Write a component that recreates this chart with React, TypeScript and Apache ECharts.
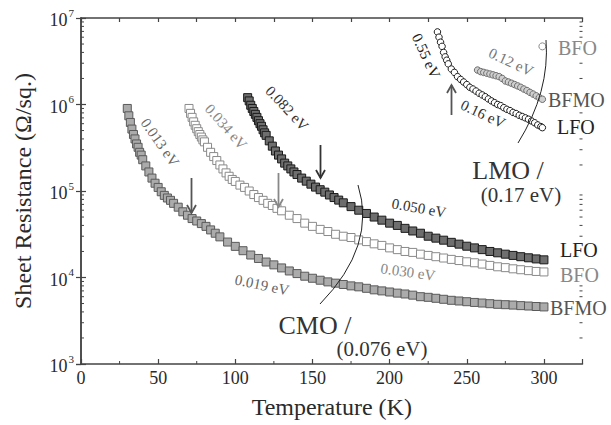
import React, { useEffect, useRef } from "react";
import * as echarts from "echarts";

const FONT = "'Liberation Serif', 'Times New Roman', serif";

// Temperature (K), sheet resistance (ohm/sq)
const cmoBFMO: [number, number][] = [
  [30, 9.0e5], [31, 7.4e5], [32, 6.2e5], [33, 5.2e5], [34, 4.5e5], [35, 4.0e5], [36, 3.5e5], [37, 3.2e5], [38, 2.8e5], [39, 2.6e5],
  [40, 2.3e5], [42, 1.95e5], [44, 1.66e5], [46, 1.41e5], [48, 1.23e5], [50, 1.1e5], [52, 9.8e4], [54, 8.9e4], [56, 8.3e4], [58, 7.8e4],
  [60, 7.2e4], [63, 6.5e4], [66, 5.75e4], [69, 5.25e4], [72, 4.8e4], [75, 4.5e4], [78, 4.2e4], [81, 3.9e4], [84, 3.55e4], [87, 3.25e4],
  [90, 2.95e4], [95, 2.57e4], [100, 2.29e4], [105, 2.04e4], [110, 1.82e4], [115, 1.66e4], [120, 1.51e4], [125, 1.4e4], [130, 1.29e4],
  [135, 1.19e4], [140, 1.11e4], [145, 1.035e4], [150, 9.8e3], [155, 9.3e3], [160, 8.9e3], [165, 8.6e3], [170, 8.3e3], [175, 8.0e3],
  [180, 7.8e3], [185, 7.5e3], [190, 7.2e3], [195, 7.0e3], [200, 6.8e3], [205, 6.6e3], [210, 6.45e3], [215, 6.25e3], [220, 6.0e3],
  [225, 5.9e3], [230, 5.75e3], [235, 5.6e3], [240, 5.45e3], [245, 5.35e3], [250, 5.25e3], [255, 5.15e3], [260, 5.07e3], [265, 4.98e3],
  [270, 4.9e3], [275, 4.85e3], [280, 4.8e3], [285, 4.73e3], [290, 4.68e3], [295, 4.62e3], [300, 4.57e3],
];

const cmoBFO: [number, number][] = [
  [70, 9.0e5], [71, 7.9e5], [72, 7.1e5], [73, 6.3e5], [74, 5.75e5], [75, 5.25e5], [76, 4.85e5], [77, 4.5e5], [78, 4.2e5], [79, 3.9e5],
  [80, 3.7e5], [82, 3.2e5], [84, 2.8e5], [86, 2.5e5], [88, 2.25e5], [90, 2.0e5], [92, 1.8e5], [94, 1.62e5], [96, 1.48e5], [98, 1.36e5],
  [100, 1.29e5], [103, 1.17e5], [106, 1.1e5], [109, 1.0e5], [112, 9.1e4], [115, 8.4e4], [118, 7.8e4], [121, 7.2e4], [124, 6.8e4],
  [127, 6.3e4], [130, 5.9e4], [135, 5.25e4], [140, 4.8e4], [145, 4.25e4], [150, 3.9e4], [155, 3.6e4], [160, 3.4e4], [165, 3.16e4],
  [170, 3.0e4], [175, 2.9e4], [180, 2.72e4], [185, 2.6e4], [190, 2.45e4], [195, 2.35e4], [200, 2.2e4], [205, 2.1e4], [210, 2.0e4],
  [215, 1.95e4], [220, 1.86e4], [225, 1.8e4], [230, 1.74e4], [235, 1.68e4], [240, 1.62e4], [245, 1.57e4], [250, 1.52e4], [255, 1.48e4],
  [260, 1.43e4], [265, 1.38e4], [270, 1.33e4], [275, 1.3e4], [280, 1.26e4], [285, 1.23e4], [290, 1.2e4], [295, 1.175e4], [300, 1.16e4],
];

const cmoLFO: [number, number][] = [
  [108, 1.2e6], [109, 1.1e6], [110, 9.8e5], [111, 9.0e5], [112, 8.3e5], [113, 7.7e5], [114, 7.1e5], [115, 6.5e5], [116, 6.0e5],
  [117, 5.6e5], [118, 5.1e5], [119, 4.7e5], [120, 4.4e5], [122, 3.8e5], [124, 3.3e5], [126, 2.9e5], [128, 2.6e5], [130, 2.35e5],
  [132, 2.1e5], [134, 1.95e5], [136, 1.8e5], [138, 1.66e5], [140, 1.55e5], [143, 1.41e5], [146, 1.3e5], [149, 1.2e5], [152, 1.11e5],
  [155, 1.035e5], [158, 9.7e4], [161, 9.0e4], [164, 8.4e4], [167, 7.85e4], [170, 7.3e4], [175, 6.6e4], [180, 6.0e4], [185, 5.5e4],
  [190, 5.0e4], [195, 4.6e4], [200, 4.25e4], [205, 4.0e4], [210, 3.7e4], [215, 3.45e4], [220, 3.25e4], [225, 3.0e4], [230, 2.85e4],
  [235, 2.7e4], [240, 2.55e4], [245, 2.43e4], [250, 2.3e4], [255, 2.2e4], [260, 2.1e4], [265, 2.0e4], [270, 1.93e4], [275, 1.86e4],
  [280, 1.8e4], [285, 1.74e4], [290, 1.69e4], [295, 1.64e4], [300, 1.6e4],
];

const lmoLFO: [number, number][] = [
  [231, 6.9e6], [232, 6.0e6], [233, 5.25e6], [234, 4.7e6], [235, 4.0e6], [236, 3.55e6], [237, 3.25e6], [238, 2.95e6], [240, 2.57e6],
  [242, 2.35e6], [244, 2.1e6], [246, 1.95e6], [248, 1.82e6], [250, 1.7e6], [252, 1.58e6], [254, 1.51e6], [256, 1.43e6], [258, 1.35e6],
  [260, 1.29e6], [262, 1.23e6], [264, 1.16e6], [266, 1.1e6], [268, 1.05e6], [270, 1.0e6], [272, 9.7e5], [274, 9.2e5], [276, 8.8e5],
  [278, 8.5e5], [280, 8.1e5], [282, 7.85e5], [284, 7.5e5], [286, 7.25e5], [288, 7.0e5], [290, 6.75e5], [292, 6.45e5], [294, 6.15e5],
  [296, 5.8e5], [298, 5.55e5], [299, 5.4e5],
];

const lmoBFMO: [number, number][] = [
  [257, 2.5e6], [259, 2.4e6], [261, 2.35e6], [263, 2.3e6], [265, 2.25e6], [267, 2.2e6], [269, 2.15e6], [271, 2.1e6], [273, 2.0e6],
  [275, 1.87e6], [277, 1.82e6], [279, 1.76e6], [281, 1.7e6], [283, 1.64e6], [285, 1.58e6], [287, 1.51e6], [289, 1.45e6], [291, 1.38e6],
  [293, 1.32e6], [295, 1.26e6], [297, 1.2e6], [299, 1.15e6],
];

const lmoBFO: [number, number][] = [[299, 4.7e6]];

const xMinorTicks = [25, 75, 125, 175, 225, 275];
const yDecades = [1e3, 1e4, 1e5, 1e6];
const yMinorMantissas = [2, 3, 4, 5, 6, 7, 8, 9];

export default function App() {
  const ref = useRef<HTMLDivElement>(null);

  useEffect(() => {
    const chart = echarts.init(ref.current!, null, { renderer: "svg" });
    const axisColor = "#444";
    const yMinor = yDecades.flatMap((d) => yMinorMantissas.map((m) => m * d));
    const deg = (a: number) => (a * Math.PI) / 180;

    const txt = (
      x: number,
      y: number,
      t: string,
      size: number,
      color: string,
      rot = 0,
      align = "center",
      bg = false,
      lh?: number
    ) => ({
      type: "text",
      x,
      y,
      rotation: deg(rot),
      z: 100,
      style: {
        text: t,
        fill: color,
        font: `${size}px ${FONT}`,
        align,
        verticalAlign: "middle",
        lineHeight: lh ?? size,
        backgroundColor: bg ? "#fff" : undefined,
      },
    });
    const arrow = (x: number, yFrom: number, yTip: number, color: string) => {
      const dir = yTip > yFrom ? 1 : -1;
      return [
        { type: "line", z: 100, shape: { x1: x, y1: yFrom, x2: x, y2: yTip }, style: { stroke: color, lineWidth: 1.8 } },
        {
          type: "polyline",
          z: 100,
          shape: { points: [[x - 4.5, yTip - dir * 8], [x, yTip], [x + 4.5, yTip - dir * 8]] },
          style: { stroke: color, lineWidth: 1.8, fill: null },
        },
      ];
    };

    const scatter = (data: [number, number][], symbol: string, size: number, fill: string, border: string, bw = 1) => ({
      type: "scatter",
      data,
      symbol,
      symbolSize: size,
      itemStyle: { color: fill, borderColor: border, borderWidth: bw, opacity: 1 },
      silent: true,
      z: 3,
    });

    const option: any = {
      animation: false,
      grid: { left: 81, right: 28.5, top: 18, bottom: 61 },
      xAxis: [
        {
          type: "value",
          min: 0,
          max: 325,
          interval: 50,
          position: "bottom",
          name: "Temperature (K)",
          nameLocation: "middle",
          nameGap: 31,
          nameTextStyle: { fontFamily: FONT, fontSize: 24, color: "#2a2a2a" },
          axisLine: { lineStyle: { color: axisColor, width: 1.5 } },
          axisTick: { inside: true, length: 5, lineStyle: { color: axisColor, width: 1.2 } },
          axisLabel: {
            margin: 5,
            fontFamily: FONT,
            fontSize: 18,
            color: "#2a2a2a",
            formatter: (v: number) => (v % 50 === 0 ? String(v) : ""),
          },
          splitLine: { show: false },
        },
        {
          type: "value",
          min: 0,
          max: 325,
          interval: 25,
          position: "top",
          axisLine: { lineStyle: { color: axisColor, width: 1.5 } },
          axisTick: { inside: true, length: 4, lineStyle: { color: axisColor, width: 1.2 } },
          axisLabel: { show: false },
          splitLine: { show: false },
        },
      ],
      yAxis: [
        {
          type: "log",
          logBase: 10,
          min: 1e3,
          max: 1e7,
          position: "left",
          name: "Sheet Resistance (Ω/sq.)",
          nameLocation: "middle",
          nameGap: 46,
          nameTextStyle: { fontFamily: FONT, fontSize: 24, color: "#2a2a2a" },
          axisLine: { lineStyle: { color: axisColor, width: 1.5 } },
          axisTick: { inside: true, length: 5, lineStyle: { color: axisColor, width: 1.2 } },
          axisLabel: {
            margin: 7,
            formatter: (v: number) => `{b|10}{s|${Math.round(Math.log10(v))}}`,
            rich: {
              b: { fontFamily: FONT, fontSize: 18, color: "#2a2a2a", lineHeight: 22, verticalAlign: "bottom" },
              s: { fontFamily: FONT, fontSize: 11, color: "#2a2a2a", lineHeight: 11, verticalAlign: "top", padding: [0, 0, 0, 1] },
            },
          },
          splitLine: { show: false },
        },
        {
          type: "log",
          logBase: 10,
          min: 1e3,
          max: 1e7,
          position: "right",
          axisLine: { lineStyle: { color: axisColor, width: 1.5 } },
          axisTick: { inside: true, length: 5, lineStyle: { color: axisColor, width: 1.2 } },
          axisLabel: { show: false },
          splitLine: { show: false },
        },
      ],
      series: [
        {
          type: "custom",
          silent: true,
          z: 1,
          data: yMinor.map((v) => [0, v]),
          renderItem: (params: any, api: any) => {
            const y = api.coord([0, api.value(1)])[1];
            const cs = params.coordSys;
            return {
              type: "group",
              children: [
                { type: "line", shape: { x1: cs.x, y1: y, x2: cs.x + 3, y2: y }, style: { stroke: axisColor, lineWidth: 1 } },
                {
                  type: "line",
                  shape: { x1: cs.x + cs.width - 3, y1: y, x2: cs.x + cs.width, y2: y },
                  style: { stroke: axisColor, lineWidth: 1 },
                },
              ],
            };
          },
        },
        {
          type: "custom",
          silent: true,
          z: 1,
          data: xMinorTicks.map((v) => [v, 1e3]),
          renderItem: (params: any, api: any) => {
            const p = api.coord([api.value(0), 1e3]);
            return {
              type: "line",
              shape: { x1: p[0], y1: p[1], x2: p[0], y2: p[1] - 3 },
              style: { stroke: axisColor, lineWidth: 1 },
            };
          },
        },
        scatter(cmoBFMO, "rect", 8, "#ababab", "#5a5a5a"),
        scatter(cmoBFO, "rect", 8, "#ffffff", "#8a8a8a"),
        scatter(cmoLFO, "rect", 8, "#6e6e6e", "#1a1a1a"),
        scatter(lmoBFMO, "circle", 6.5, "#cfcfcf", "#6e6e6e"),
        scatter(lmoLFO, "circle", 6.5, "#ffffff", "#1e1e1e"),
        scatter(lmoBFO, "circle", 7, "#ffffff", "#8a8a8a"),
      ],
      graphic: [
        txt(160, 142.5, "0.013 eV", 15, "#666", -55),
        txt(226, 126.7, "0.034 eV", 15, "#888", -48.5),
        txt(287, 108.3, "0.082 eV", 15, "#333", -47),
        txt(419, 208, "0.050 eV", 15, "#333", -10),
        txt(408, 272, "0.030 eV", 15, "#888", -8),
        txt(262, 285, "0.019 eV", 15, "#666", -12),
        txt(426, 56, "0.55 eV", 15, "#222", -65),
        txt(511, 62, "0.12 eV", 15, "#777", -25),
        txt(483, 114, "0.16 eV", 15, "#333", -25),
        txt(315, 325, "CMO /", 26, "#333", 0, "center", false, 20),
        txt(382, 349, "(0.076 eV)", 21, "#333", 0, "center", false, 18),
        txt(508, 170, "LMO /", 26, "#333", 0, "center", false, 20),
        txt(521, 195, "(0.17 eV)", 21, "#333", 0, "center", false, 18),
        txt(558, 48, "BFO", 20, "#888", 0, "left", true),
        txt(548, 100, "BFMO", 20, "#555", 0, "left", true),
        txt(557, 127, "LFO", 20, "#222", 0, "left", true),
        txt(560, 250, "LFO", 20, "#222", 0, "left", true),
        txt(560, 275, "BFO", 20, "#888", 0, "left", true),
        txt(550, 308, "BFMO", 20, "#555", 0, "left", true),
        ...arrow(191.5, 178, 213, "#555"),
        ...arrow(278.5, 173, 207, "#888"),
        ...arrow(320.5, 145, 178, "#333"),
        ...arrow(451.5, 115, 85, "#555"),
        {
          type: "bezierCurve",
          z: 90,
          shape: { x1: 358, y1: 185, x2: 320, y2: 304, cpx1: 377, cpy1: 245.5 },
          style: { stroke: "#222", lineWidth: 1, fill: null },
        },
        {
          type: "bezierCurve",
          z: 90,
          shape: { x1: 546, y1: 40, x2: 518, y2: 143, cpx1: 550, cpy1: 91.5 },
          style: { stroke: "#222", lineWidth: 1, fill: null },
        },
      ],
    };

    chart.setOption(option);
    return () => chart.dispose();
  }, []);

  return <div ref={ref} style={{ width: 611, height: 425, position: "absolute", left: 0, top: 0, background: "#fff" }} />;
}
